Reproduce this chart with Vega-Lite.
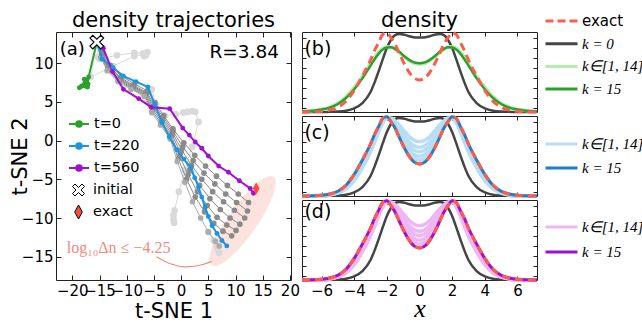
{
"$schema":"https://vega.github.io/schema/vega-lite/v6.json",
"background":"white",
"padding":{"left":8,"top":9,"right":0,"bottom":0},
"config":{"view":{"stroke":"#222","strokeWidth":1},"font":"DejaVu Sans"},
"datasets":{
"traj":[
{"t":"F1","k":"faint","x":-15.5,"y":12.7},{"t":"F1","k":"faint","x":-15.3,"y":10.8},{"t":"F1","k":"faint","x":-15.0,"y":10.5},{"t":"F1","k":"faint","x":-11.8,"y":11.0},{"t":"F1","k":"faint","x":-8.6,"y":11.3},{"t":"F1","k":"faint","x":-7.0,"y":11.2},{"t":"F1","k":"faint","x":-6.5,"y":11.0},{"t":"F1","k":"faint","x":-6.2,"y":11.4},{"t":"F1","k":"faint","x":-6.8,"y":10.9},
{"t":"F2","k":"faint","x":-15.5,"y":12.7},{"t":"F2","k":"faint","x":-16.6,"y":8.2},{"t":"F2","k":"faint","x":-12.5,"y":9.6},{"t":"F2","k":"faint","x":-8.6,"y":10.9},{"t":"F2","k":"faint","x":-6.6,"y":11.1},
{"t":"F3","k":"faint","x":-15.5,"y":12.7},{"t":"F3","k":"faint","x":-14.5,"y":11.0},{"t":"F3","k":"faint","x":-11.3,"y":8.0},{"t":"F3","k":"faint","x":-6.5,"y":6.0},{"t":"F3","k":"faint","x":-5.4,"y":6.6},{"t":"F3","k":"faint","x":-4.6,"y":4.6},{"t":"F3","k":"faint","x":-3.0,"y":3.2},{"t":"F3","k":"faint","x":-1.0,"y":3.4},{"t":"F3","k":"faint","x":0.4,"y":3.6},{"t":"F3","k":"faint","x":1.2,"y":3.7},{"t":"F3","k":"faint","x":2.0,"y":3.8},{"t":"F3","k":"faint","x":2.6,"y":3.7},{"t":"F3","k":"faint","x":3.2,"y":2.4},{"t":"F3","k":"faint","x":2.0,"y":-0.8},{"t":"F3","k":"faint","x":0.7,"y":-3.8},{"t":"F3","k":"faint","x":-0.4,"y":-6.6},{"t":"F3","k":"faint","x":-1.2,"y":-9.0},{"t":"F3","k":"faint","x":-1.4,"y":-9.6},{"t":"F3","k":"faint","x":-1.4,"y":-10.2},{"t":"F3","k":"faint","x":-1.3,"y":-10.6},
{"t":"F4","k":"faint","x":5.0,"y":-11.8},{"t":"F4","k":"faint","x":6.0,"y":-12.9},{"t":"F4","k":"faint","x":6.5,"y":-13.6},{"t":"F4","k":"faint","x":6.8,"y":-14.1},{"t":"F4","k":"faint","x":7.0,"y":-14.5},
{"t":"G1","k":"gray","x":-15.5,"y":12.7},{"t":"G1","k":"gray","x":-14.4,"y":11.3},{"t":"G1","k":"gray","x":-13.0,"y":9.7},{"t":"G1","k":"gray","x":-11.0,"y":8.3},{"t":"G1","k":"gray","x":-8.6,"y":7.3},{"t":"G1","k":"gray","x":-6.2,"y":6.4},{"t":"G1","k":"gray","x":-4.8,"y":4.9},{"t":"G1","k":"gray","x":-3.2,"y":3.2},{"t":"G1","k":"gray","x":-1.5,"y":1.5},{"t":"G1","k":"gray","x":0.5,"y":-0.3},{"t":"G1","k":"gray","x":2.5,"y":-1.9},{"t":"G1","k":"gray","x":4.5,"y":-3.3},{"t":"G1","k":"gray","x":6.5,"y":-4.6},{"t":"G1","k":"gray","x":8.5,"y":-5.8},{"t":"G1","k":"gray","x":10.5,"y":-6.9},{"t":"G1","k":"gray","x":12.4,"y":-8.0},
{"t":"G2","k":"gray","x":-15.5,"y":12.7},{"t":"G2","k":"gray","x":-14.5,"y":11.1},{"t":"G2","k":"gray","x":-13.1,"y":9.5},{"t":"G2","k":"gray","x":-11.1,"y":8.1},{"t":"G2","k":"gray","x":-8.7,"y":7.1},{"t":"G2","k":"gray","x":-6.3,"y":6.2},{"t":"G2","k":"gray","x":-4.9,"y":4.6},{"t":"G2","k":"gray","x":-3.3,"y":3.0},{"t":"G2","k":"gray","x":-1.5,"y":1.2},{"t":"G2","k":"gray","x":0.3,"y":-0.8},{"t":"G2","k":"gray","x":2.2,"y":-2.6},{"t":"G2","k":"gray","x":4.2,"y":-4.2},{"t":"G2","k":"gray","x":6.2,"y":-5.6},{"t":"G2","k":"gray","x":8.2,"y":-6.9},{"t":"G2","k":"gray","x":10.2,"y":-8.0},{"t":"G2","k":"gray","x":12.2,"y":-9.1},
{"t":"G3","k":"gray","x":-15.5,"y":12.7},{"t":"G3","k":"gray","x":-14.5,"y":11.0},{"t":"G3","k":"gray","x":-13.2,"y":9.4},{"t":"G3","k":"gray","x":-11.2,"y":8.0},{"t":"G3","k":"gray","x":-8.8,"y":7.0},{"t":"G3","k":"gray","x":-6.4,"y":6.1},{"t":"G3","k":"gray","x":-5.0,"y":4.4},{"t":"G3","k":"gray","x":-3.4,"y":2.8},{"t":"G3","k":"gray","x":-1.6,"y":1.0},{"t":"G3","k":"gray","x":0.1,"y":-1.2},{"t":"G3","k":"gray","x":1.9,"y":-3.2},{"t":"G3","k":"gray","x":3.8,"y":-5.0},{"t":"G3","k":"gray","x":5.8,"y":-6.6},{"t":"G3","k":"gray","x":7.8,"y":-7.9},{"t":"G3","k":"gray","x":9.8,"y":-9.0},{"t":"G3","k":"gray","x":11.7,"y":-10.0},
{"t":"G4","k":"gray","x":-15.5,"y":12.7},{"t":"G4","k":"gray","x":-14.6,"y":10.9},{"t":"G4","k":"gray","x":-13.3,"y":9.3},{"t":"G4","k":"gray","x":-11.3,"y":7.9},{"t":"G4","k":"gray","x":-8.9,"y":6.9},{"t":"G4","k":"gray","x":-6.5,"y":6.0},{"t":"G4","k":"gray","x":-5.1,"y":4.2},{"t":"G4","k":"gray","x":-3.5,"y":2.6},{"t":"G4","k":"gray","x":-1.7,"y":0.8},{"t":"G4","k":"gray","x":-0.1,"y":-1.6},{"t":"G4","k":"gray","x":1.6,"y":-3.8},{"t":"G4","k":"gray","x":3.4,"y":-5.8},{"t":"G4","k":"gray","x":5.3,"y":-7.5},{"t":"G4","k":"gray","x":7.2,"y":-8.9},{"t":"G4","k":"gray","x":9.0,"y":-10.0},{"t":"G4","k":"gray","x":10.8,"y":-10.8},
{"t":"G5","k":"gray","x":-15.5,"y":12.7},{"t":"G5","k":"gray","x":-14.6,"y":10.8},{"t":"G5","k":"gray","x":-13.4,"y":9.2},{"t":"G5","k":"gray","x":-11.4,"y":7.8},{"t":"G5","k":"gray","x":-9.0,"y":6.8},{"t":"G5","k":"gray","x":-6.6,"y":5.9},{"t":"G5","k":"gray","x":-5.2,"y":4.0},{"t":"G5","k":"gray","x":-3.6,"y":2.4},{"t":"G5","k":"gray","x":-1.8,"y":0.6},{"t":"G5","k":"gray","x":-0.3,"y":-2.0},{"t":"G5","k":"gray","x":1.3,"y":-4.4},{"t":"G5","k":"gray","x":3.0,"y":-6.6},{"t":"G5","k":"gray","x":4.8,"y":-8.4},{"t":"G5","k":"gray","x":6.6,"y":-9.9},{"t":"G5","k":"gray","x":8.4,"y":-10.9},{"t":"G5","k":"gray","x":10.1,"y":-11.6},
{"t":"G6","k":"gray","x":-15.5,"y":12.7},{"t":"G6","k":"gray","x":-14.7,"y":10.7},{"t":"G6","k":"gray","x":-13.5,"y":9.1},{"t":"G6","k":"gray","x":-11.5,"y":7.7},{"t":"G6","k":"gray","x":-9.1,"y":6.7},{"t":"G6","k":"gray","x":-6.7,"y":5.8},{"t":"G6","k":"gray","x":-5.3,"y":3.8},{"t":"G6","k":"gray","x":-3.7,"y":2.2},{"t":"G6","k":"gray","x":-1.9,"y":0.4},{"t":"G6","k":"gray","x":-0.5,"y":-2.4},{"t":"G6","k":"gray","x":1.0,"y":-5.0},{"t":"G6","k":"gray","x":2.6,"y":-7.3},{"t":"G6","k":"gray","x":4.3,"y":-9.2},{"t":"G6","k":"gray","x":6.0,"y":-10.7},{"t":"G6","k":"gray","x":7.7,"y":-11.7},{"t":"G6","k":"gray","x":9.3,"y":-12.3},
{"t":"G7","k":"gray2","x":-15.5,"y":12.7},{"t":"G7","k":"gray2","x":-14.7,"y":10.6},{"t":"G7","k":"gray2","x":-13.6,"y":9.0},{"t":"G7","k":"gray2","x":-11.6,"y":7.6},{"t":"G7","k":"gray2","x":-9.2,"y":6.6},{"t":"G7","k":"gray2","x":-6.8,"y":5.7},{"t":"G7","k":"gray2","x":-5.4,"y":3.6},{"t":"G7","k":"gray2","x":-3.8,"y":2.0},{"t":"G7","k":"gray2","x":-2.0,"y":0.2},{"t":"G7","k":"gray2","x":-0.7,"y":-2.7},{"t":"G7","k":"gray2","x":0.7,"y":-5.4},{"t":"G7","k":"gray2","x":2.1,"y":-7.9},{"t":"G7","k":"gray2","x":3.6,"y":-10.0},{"t":"G7","k":"gray2","x":5.0,"y":-11.8},{"t":"G7","k":"gray2","x":6.3,"y":-13.0},{"t":"G7","k":"gray2","x":7.0,"y":-13.6},
{"t":"T0","k":"t=0","x":-15.5,"y":12.7},{"t":"T0","k":"t=0","x":-17.0,"y":8.2},{"t":"T0","k":"t=0","x":-17.3,"y":7.8},{"t":"T0","k":"t=0","x":-17.6,"y":7.5},{"t":"T0","k":"t=0","x":-17.9,"y":7.2},{"t":"T0","k":"t=0","x":-18.3,"y":7.0},{"t":"T0","k":"t=0","x":-18.7,"y":6.8},{"t":"T0","k":"t=0","x":-17.5,"y":7.0},{"t":"T0","k":"t=0","x":-17.1,"y":7.3},{"t":"T0","k":"t=0","x":-17.4,"y":7.6},{"t":"T0","k":"t=0","x":-17.8,"y":7.9},{"t":"T0","k":"t=0","x":-17.2,"y":6.9},
{"t":"T220","k":"t=220","x":-15.5,"y":12.7},{"t":"T220","k":"t=220","x":-14.5,"y":10.5},{"t":"T220","k":"t=220","x":-12.5,"y":9.4},{"t":"T220","k":"t=220","x":-10.6,"y":8.3},{"t":"T220","k":"t=220","x":-8.3,"y":7.6},{"t":"T220","k":"t=220","x":-6.1,"y":6.9},{"t":"T220","k":"t=220","x":-4.8,"y":4.6},{"t":"T220","k":"t=220","x":-3.5,"y":2.3},{"t":"T220","k":"t=220","x":-2.2,"y":0.5},{"t":"T220","k":"t=220","x":-0.8,"y":-1.2},{"t":"T220","k":"t=220","x":0.5,"y":-2.4},{"t":"T220","k":"t=220","x":1.8,"y":-3.5},{"t":"T220","k":"t=220","x":2.5,"y":-4.8},{"t":"T220","k":"t=220","x":3.2,"y":-6.0},{"t":"T220","k":"t=220","x":3.8,"y":-7.3},{"t":"T220","k":"t=220","x":4.4,"y":-8.6},{"t":"T220","k":"t=220","x":5.0,"y":-9.8},{"t":"T220","k":"t=220","x":5.7,"y":-11.0},{"t":"T220","k":"t=220","x":6.6,"y":-12.0},{"t":"T220","k":"t=220","x":7.5,"y":-12.9},{"t":"T220","k":"t=220","x":8.4,"y":-13.6},
{"t":"T560","k":"t=560","x":-15.5,"y":12.7},{"t":"T560","k":"t=560","x":-14.3,"y":11.9},{"t":"T560","k":"t=560","x":-12.6,"y":8.9},{"t":"T560","k":"t=560","x":-10.6,"y":6.6},{"t":"T560","k":"t=560","x":-7.8,"y":5.4},{"t":"T560","k":"t=560","x":-5.5,"y":4.3},{"t":"T560","k":"t=560","x":-2.1,"y":4.1},{"t":"T560","k":"t=560","x":0.3,"y":1.6},{"t":"T560","k":"t=560","x":1.5,"y":0.7},{"t":"T560","k":"t=560","x":2.6,"y":-0.2},{"t":"T560","k":"t=560","x":3.8,"y":-1.0},{"t":"T560","k":"t=560","x":5.0,"y":-2.0},{"t":"T560","k":"t=560","x":6.9,"y":-3.3},{"t":"T560","k":"t=560","x":8.7,"y":-4.1},{"t":"T560","k":"t=560","x":10.7,"y":-5.2},{"t":"T560","k":"t=560","x":12.7,"y":-6.2},{"t":"T560","k":"t=560","x":13.3,"y":-6.8}
],
"marks":[{"k":"initial","x":-15.5,"y":12.7},{"k":"exact","x":13.8,"y":-6.2}],
"arc":[{"x":-4.5,"y":-15.0},{"x":-2.0,"y":-15.9},{"x":1.0,"y":-16.3},{"x":4.0,"y":-16.0},{"x":5.6,"y":-15.6}],
"dens":[
{"x":-7.2,"e":0,"k0":0,"g15":0.006,"gl":0.008,"c1":0,"c2":0,"c3":0,"c5":0,"c9":0},
{"x":-7,"e":0,"k0":0,"g15":0.008,"gl":0.01,"c1":0,"c2":0,"c3":0,"c5":0,"c9":0},
{"x":-6.5,"e":0.003,"k0":0,"g15":0.016,"gl":0.019,"c1":0.001,"c2":0.0015,"c3":0.002,"c5":0.002,"c9":0.0027},
{"x":-6,"e":0.009,"k0":0,"g15":0.03,"gl":0.035,"c1":0.004,"c2":0.005,"c3":0.006,"c5":0.007,"c9":0.008},
{"x":-5.5,"e":0.025,"k0":0.002,"g15":0.055,"gl":0.062,"c1":0.012,"c2":0.015,"c3":0.018,"c5":0.02,"c9":0.023},
{"x":-5,"e":0.06,"k0":0.005,"g15":0.1,"gl":0.11,"c1":0.035,"c2":0.041,"c3":0.046,"c5":0.051,"c9":0.056},
{"x":-4.5,"e":0.135,"k0":0.015,"g15":0.175,"gl":0.19,"c1":0.085,"c2":0.098,"c3":0.108,"c5":0.118,"c9":0.127},
{"x":-4,"e":0.27,"k0":0.045,"g15":0.285,"gl":0.305,"c1":0.19,"c2":0.21,"c3":0.226,"c5":0.242,"c9":0.256},
{"x":-3.5,"e":0.45,"k0":0.11,"g15":0.42,"gl":0.445,"c1":0.35,"c2":0.375,"c3":0.395,"c5":0.415,"c9":0.433},
{"x":-3,"e":0.65,"k0":0.25,"g15":0.58,"gl":0.605,"c1":0.55,"c2":0.575,"c3":0.595,"c5":0.615,"c9":0.633},
{"x":-2.75,"e":0.77,"k0":0.37,"g15":0.66,"gl":0.685,"c1":0.67,"c2":0.695,"c3":0.715,"c5":0.735,"c9":0.753},
{"x":-2.5,"e":0.87,"k0":0.51,"g15":0.73,"gl":0.75,"c1":0.8,"c2":0.818,"c3":0.832,"c5":0.846,"c9":0.858},
{"x":-2.25,"e":0.97,"k0":0.66,"g15":0.78,"gl":0.795,"c1":0.91,"c2":0.925,"c3":0.937,"c5":0.949,"c9":0.96},
{"x":-2,"e":0.99,"k0":0.8,"g15":0.805,"gl":0.815,"c1":0.975,"c2":0.979,"c3":0.982,"c5":0.985,"c9":0.987},
{"x":-1.75,"e":0.93,"k0":0.9,"g15":0.81,"gl":0.81,"c1":0.975,"c2":0.964,"c3":0.955,"c5":0.946,"c9":0.938},
{"x":-1.5,"e":0.85,"k0":0.96,"g15":0.79,"gl":0.785,"c1":0.94,"c2":0.918,"c3":0.9,"c5":0.882,"c9":0.865},
{"x":-1.25,"e":0.74,"k0":0.975,"g15":0.755,"gl":0.745,"c1":0.89,"c2":0.853,"c3":0.823,"c5":0.793,"c9":0.766},
{"x":-1,"e":0.63,"k0":0.97,"g15":0.71,"gl":0.7,"c1":0.83,"c2":0.78,"c3":0.74,"c5":0.7,"c9":0.664},
{"x":-0.75,"e":0.535,"k0":0.955,"g15":0.67,"gl":0.66,"c1":0.77,"c2":0.711,"c3":0.664,"c5":0.617,"c9":0.575},
{"x":-0.5,"e":0.46,"k0":0.94,"g15":0.635,"gl":0.625,"c1":0.72,"c2":0.655,"c3":0.603,"c5":0.551,"c9":0.504},
{"x":-0.25,"e":0.415,"k0":0.932,"g15":0.615,"gl":0.605,"c1":0.69,"c2":0.621,"c3":0.566,"c5":0.511,"c9":0.462},
{"x":0,"e":0.4,"k0":0.93,"g15":0.61,"gl":0.6,"c1":0.68,"c2":0.61,"c3":0.554,"c5":0.498,"c9":0.448},
{"x":0.25,"e":0.415,"k0":0.932,"g15":0.615,"gl":0.605,"c1":0.69,"c2":0.621,"c3":0.566,"c5":0.511,"c9":0.462},
{"x":0.5,"e":0.46,"k0":0.94,"g15":0.635,"gl":0.625,"c1":0.72,"c2":0.655,"c3":0.603,"c5":0.551,"c9":0.504},
{"x":0.75,"e":0.535,"k0":0.955,"g15":0.67,"gl":0.66,"c1":0.77,"c2":0.711,"c3":0.664,"c5":0.617,"c9":0.575},
{"x":1,"e":0.63,"k0":0.97,"g15":0.71,"gl":0.7,"c1":0.83,"c2":0.78,"c3":0.74,"c5":0.7,"c9":0.664},
{"x":1.25,"e":0.74,"k0":0.975,"g15":0.755,"gl":0.745,"c1":0.89,"c2":0.853,"c3":0.823,"c5":0.793,"c9":0.766},
{"x":1.5,"e":0.85,"k0":0.96,"g15":0.79,"gl":0.785,"c1":0.94,"c2":0.918,"c3":0.9,"c5":0.882,"c9":0.865},
{"x":1.75,"e":0.93,"k0":0.9,"g15":0.81,"gl":0.81,"c1":0.975,"c2":0.964,"c3":0.955,"c5":0.946,"c9":0.938},
{"x":2,"e":0.99,"k0":0.8,"g15":0.805,"gl":0.815,"c1":0.975,"c2":0.979,"c3":0.982,"c5":0.985,"c9":0.987},
{"x":2.25,"e":0.97,"k0":0.66,"g15":0.78,"gl":0.795,"c1":0.91,"c2":0.925,"c3":0.937,"c5":0.949,"c9":0.96},
{"x":2.5,"e":0.87,"k0":0.51,"g15":0.73,"gl":0.75,"c1":0.8,"c2":0.818,"c3":0.832,"c5":0.846,"c9":0.858},
{"x":2.75,"e":0.77,"k0":0.37,"g15":0.66,"gl":0.685,"c1":0.67,"c2":0.695,"c3":0.715,"c5":0.735,"c9":0.753},
{"x":3,"e":0.65,"k0":0.25,"g15":0.58,"gl":0.605,"c1":0.55,"c2":0.575,"c3":0.595,"c5":0.615,"c9":0.633},
{"x":3.5,"e":0.45,"k0":0.11,"g15":0.42,"gl":0.445,"c1":0.35,"c2":0.375,"c3":0.395,"c5":0.415,"c9":0.433},
{"x":4,"e":0.27,"k0":0.045,"g15":0.285,"gl":0.305,"c1":0.19,"c2":0.21,"c3":0.226,"c5":0.242,"c9":0.256},
{"x":4.5,"e":0.135,"k0":0.015,"g15":0.175,"gl":0.19,"c1":0.085,"c2":0.098,"c3":0.108,"c5":0.118,"c9":0.127},
{"x":5,"e":0.06,"k0":0.005,"g15":0.1,"gl":0.11,"c1":0.035,"c2":0.041,"c3":0.046,"c5":0.051,"c9":0.056},
{"x":5.5,"e":0.025,"k0":0.002,"g15":0.055,"gl":0.062,"c1":0.012,"c2":0.015,"c3":0.018,"c5":0.02,"c9":0.023},
{"x":6,"e":0.009,"k0":0,"g15":0.03,"gl":0.035,"c1":0.004,"c2":0.005,"c3":0.006,"c5":0.007,"c9":0.008},
{"x":6.5,"e":0.003,"k0":0,"g15":0.016,"gl":0.019,"c1":0.001,"c2":0.0015,"c3":0.002,"c5":0.002,"c9":0.0027},
{"x":7,"e":0,"k0":0,"g15":0.008,"gl":0.01,"c1":0,"c2":0,"c3":0,"c5":0,"c9":0},
{"x":7.2,"e":0,"k0":0,"g15":0.006,"gl":0.008,"c1":0,"c2":0,"c3":0,"c5":0,"c9":0}
]
},
"bounds":"flush",
"spacing":11,
"resolve":{"scale":{"color":"independent","shape":"independent","stroke":"independent","fill":"independent","x":"independent","y":"independent"},"legend":{"color":"independent","shape":"independent","stroke":"independent","fill":"independent"}},
"hconcat":[
{
"width":235,"height":248,
"title":{"text":"density trajectories","font":"DejaVu Sans","fontSize":21,"fontWeight":"normal","color":"black","anchor":"middle","frame":"group","offset":1},
"data":{"name":"traj"},
"transform":[{"window":[{"op":"row_number","as":"i"}]}],
"resolve":{"axis":{"x":"independent","y":"independent"}},
"layer":[
{"data":{"values":[{}]},
 "mark":{"type":"point","shape":"M-1,0A1,0.27,0,1,0,1,0A1,0.27,0,1,0,-1,0Z","size":11664,"angle":305,"filled":true,"color":"#fde3de","opacity":1,"strokeWidth":0},
 "encoding":{"x":{"datum":11.3,"type":"quantitative","axis":null},"y":{"datum":-10.4,"type":"quantitative","axis":null}}},
{"data":{"name":"arc"},
 "mark":{"type":"line","color":"#f08a80","strokeWidth":1.2,"interpolate":"monotone"},
 "encoding":{"x":{"field":"x","type":"quantitative","axis":null},"y":{"field":"y","type":"quantitative","axis":null}}},
{"transform":[{"filter":{"field":"k","equal":"faint"}}],
 "mark":{"type":"line","strokeWidth":1},
 "encoding":{
  "x":{"field":"x","type":"quantitative","scale":{"domain":[-23,20.2],"nice":false,"zero":false},
   "axis":{"orient":"bottom","values":[-20,-15,-10,-5,0,5,10,15,20],"title":"t-SNE 1","titleFont":"DejaVu Sans","titleFontSize":21,"titleFontWeight":"normal","titleColor":"black","titlePadding":2,"labelFont":"DejaVu Sans","labelFontSize":15,"labelColor":"black","labelPadding":8,"labelOverlap":false,"labelFlush":false,"labelBound":false,"tickSize":-5,"tickColor":"#222","domain":false,"grid":false}},
  "y":{"field":"y","type":"quantitative","scale":{"domain":[-18,14],"nice":false,"zero":false},
   "axis":{"orient":"left","values":[-15,-10,-5,0,5,10],"title":"t-SNE 2","titleFont":"DejaVu Sans","titleFontSize":21,"titleFontWeight":"normal","titleColor":"black","titlePadding":-9,"labelFont":"DejaVu Sans","labelFontSize":15,"labelColor":"black","labelPadding":8,"labelOverlap":false,"labelFlush":false,"labelBound":false,"tickSize":-5,"tickColor":"#222","domain":false,"grid":false}},
  "stroke":{"field":"k","type":"nominal","scale":{"domain":["t=0","t=220","t=560","gray","gray2","faint"],"range":["#2ca02c","#1a96e0","#a010d0","#8a8a8a","#ababab","#d9d9d9"]}},
  "detail":{"field":"t"},
  "order":{"field":"i","type":"quantitative"}}},
{"transform":[{"filter":{"field":"k","equal":"faint"}}],
 "mark":{"type":"point","filled":true,"size":45,"opacity":1},
 "encoding":{"x":{"field":"x","type":"quantitative","axis":null},"y":{"field":"y","type":"quantitative","axis":null},
  "color":{"field":"k","type":"nominal","scale":{"domain":["t=0","t=220","t=560","gray","gray2","faint"],"range":["#2ca02c","#1a96e0","#a010d0","#8a8a8a","#ababab","#d9d9d9"]},"legend":null}}},
{"transform":[{"filter":{"field":"k","oneOf":["gray","gray2"]}}],
 "mark":{"type":"line","strokeWidth":1},
 "encoding":{
  "x":{"field":"x","type":"quantitative","axis":{"orient":"top","values":[-20,-15,-10,-5,0,5,10,15,20],"labels":false,"title":null,"tickSize":-5,"tickColor":"#222","domain":false,"grid":false}},
  "y":{"field":"y","type":"quantitative","axis":{"orient":"right","values":[-15,-10,-5,0,5,10],"labels":false,"title":null,"tickSize":-5,"tickColor":"#222","domain":false,"grid":false}},
  "stroke":{"field":"k","type":"nominal"},
  "detail":{"field":"t"},
  "order":{"field":"i","type":"quantitative"}}},
{"transform":[{"filter":{"field":"k","oneOf":["gray","gray2"]}}],
 "mark":{"type":"point","filled":true,"size":32,"opacity":1},
 "encoding":{"x":{"field":"x","type":"quantitative","axis":null},"y":{"field":"y","type":"quantitative","axis":null},
  "color":{"field":"k","type":"nominal","legend":null}}},
{"transform":[{"filter":{"field":"k","oneOf":["t=0","t=220","t=560"]}}],
 "mark":{"type":"line","strokeWidth":2},
 "encoding":{"x":{"field":"x","type":"quantitative","axis":null},"y":{"field":"y","type":"quantitative","axis":null},
  "stroke":{"field":"k","type":"nominal",
   "legend":{"title":null,"orient":"none","legendX":12,"legendY":81,"padding":0,"values":["t=0","t=220","t=560"],"symbolType":"M-1,0L1,0M-0.28,0A0.28,0.28,0,1,0,0.28,0A0.28,0.28,0,1,0,-0.28,0","symbolSize":400,"symbolStrokeWidth":2,"clipHeight":22,"rowPadding":0,"labelFont":"DejaVu Sans","labelFontSize":14.5,"labelColor":"black","labelOffset":4}},
  "detail":{"field":"t"},
  "order":{"field":"i","type":"quantitative"}}},
{"transform":[{"filter":{"field":"k","oneOf":["t=0","t=220","t=560"]}}],
 "mark":{"type":"point","filled":true,"size":24,"opacity":1},
 "encoding":{"x":{"field":"x","type":"quantitative","axis":null},"y":{"field":"y","type":"quantitative","axis":null},
  "color":{"field":"k","type":"nominal","legend":null}}},
{"data":{"name":"marks"},
 "transform":[{"filter":{"field":"k","equal":"initial"}}],
 "mark":{"type":"point","filled":true,"size":520,"stroke":"black","strokeWidth":1.2,"opacity":1},
 "encoding":{"x":{"field":"x","type":"quantitative","axis":null},"y":{"field":"y","type":"quantitative","axis":null},
  "fill":{"field":"k","type":"nominal","scale":{"domain":["initial","exact"],"range":["#ffffff","#ff4b3e"]},
   "legend":{"title":null,"orient":"none","legendX":12,"legendY":147,"padding":0,"values":["initial","exact"],"symbolSize":400,"symbolStrokeWidth":1,"clipHeight":22,"rowPadding":0,"labelFont":"DejaVu Sans","labelFontSize":14.5,"labelColor":"black","labelOffset":4}},
  "shape":{"field":"k","type":"nominal",
   "scale":{"domain":["initial","exact"],"range":["M-0.6,-0.35L-0.35,-0.6L0,-0.25L0.35,-0.6L0.6,-0.35L0.25,0L0.6,0.35L0.35,0.6L0,0.25L-0.35,0.6L-0.6,0.35L-0.25,0Z","M0,-0.7L0.38,0L0,0.7L-0.38,0Z"]},
   "legend":{"title":null,"orient":"none","legendX":12,"legendY":147,"padding":0,"values":["initial","exact"],"symbolSize":400,"symbolStrokeWidth":1,"clipHeight":22,"rowPadding":0,"labelFont":"DejaVu Sans","labelFontSize":14.5,"labelColor":"black","labelOffset":4}}}},
{"data":{"name":"marks"},
 "transform":[{"filter":{"field":"k","equal":"exact"}}],
 "mark":{"type":"point","filled":true,"size":320,"opacity":1},
 "encoding":{"x":{"field":"x","type":"quantitative","axis":null},"y":{"field":"y","type":"quantitative","axis":null},
  "fill":{"field":"k","type":"nominal"},
  "shape":{"field":"k","type":"nominal"}}},
{"data":{"values":[{}]},
 "mark":{"type":"text","text":"(a)","font":"DejaVu Sans","fontSize":18,"align":"left","baseline":"middle","color":"black"},
 "encoding":{"x":{"datum":-22.3,"type":"quantitative","axis":null},"y":{"datum":11.7,"type":"quantitative","axis":null}}},
{"data":{"values":[{}]},
 "mark":{"type":"text","text":"R=3.84","font":"DejaVu Sans","fontSize":18.5,"align":"right","baseline":"middle","color":"black"},
 "encoding":{"x":{"datum":18.0,"type":"quantitative","axis":null},"y":{"datum":11.4,"type":"quantitative","axis":null}}},
{"data":{"values":[{}]},
 "mark":{"type":"text","text":"log₁₀Δn ≤ −4.25","font":"Liberation Serif","fontSize":16,"align":"center","baseline":"middle","color":"#f08a80"},
 "encoding":{"x":{"datum":-11.5,"type":"quantitative","axis":null},"y":{"datum":-13.9,"type":"quantitative","axis":null}}}
]
},
{
"bounds":"flush",
"spacing":4,
"resolve":{"scale":{"color":"independent","x":"independent","y":"independent"},"legend":{"color":"independent"}},
"vconcat":[
{
"width":235,"height":80,
"title":{"text":"density","font":"DejaVu Sans","fontSize":21,"fontWeight":"normal","color":"black","anchor":"middle","frame":"group","offset":-21},
"data":{"name":"dens"},
"transform":[{"fold":["e","k0","g15","gl"],"as":["key","y"]}],
"resolve":{"axis":{"x":"independent","y":"independent"}},
"layer":[
{"transform":[{"filter":{"field":"key","equal":"k0"}}],
 "mark":{"type":"line","strokeWidth":2.5,"interpolate":"monotone"},
 "encoding":{
  "x":{"field":"x","type":"quantitative","scale":{"domain":[-7.2,7.2],"nice":false,"zero":false},"axis":{"orient":"bottom","values":[-6,-4,-2,0,2,4,6],"labels":false,"title":null,"tickSize":-4,"tickColor":"#222","domain":false,"grid":false}},
  "y":{"field":"y","type":"quantitative","scale":{"domain":[0,1],"nice":false,"zero":false},"axis":{"orient":"left","values":[0.055,0.18,0.305,0.43,0.555,0.68,0.805,0.93],"labels":false,"title":null,"tickSize":-4,"tickColor":"#222","domain":false,"grid":false}},
  "color":{"field":"key","type":"nominal","scale":{"domain":["e","k0","gl","g15"],"range":["#ff5a4a","#454545","#b5ecae","#2ca02c"]}}}},
{"transform":[{"filter":{"field":"key","equal":"gl"}}],
 "mark":{"type":"line","strokeWidth":3.5,"interpolate":"monotone"},
 "encoding":{
  "x":{"field":"x","type":"quantitative","axis":{"orient":"top","values":[-6,-4,-2,0,2,4,6],"labels":false,"title":null,"tickSize":-4,"tickColor":"#222","domain":false,"grid":false}},
  "y":{"field":"y","type":"quantitative","axis":{"orient":"right","values":[0.055,0.18,0.305,0.43,0.555,0.68,0.805,0.93],"labels":false,"title":null,"tickSize":-4,"tickColor":"#222","domain":false,"grid":false}},
  "color":{"field":"key","type":"nominal",
   "legend":{"title":null,"orient":"none","legendX":242,"legendY":-22,"padding":0,"values":["e","k0","gl","g15"],"symbolType":"stroke","symbolSize":1024,"symbolStrokeWidth":3,"clipHeight":22,"rowPadding":0.7,"labelFontSize":15,"labelColor":"black","labelOffset":3,
    "labelExpr":"datum.value === 'e' ? 'exact' : datum.value === 'k0' ? 'k = 0' : datum.value === 'gl' ? 'k∈[1, 14]' : 'k = 15'",
    "encode":{"labels":{"update":{"font":{"signal":"datum.value === 'e' ? 'DejaVu Sans' : 'Liberation Serif'"},"fontStyle":{"signal":"datum.value === 'e' ? 'normal' : 'italic'"}}},
     "symbols":{"update":{"strokeDash":{"signal":"datum.value === 'e' ? [8,4] : []"},"strokeWidth":{"value":3},"opacity":{"value":1}}}}}}}},
{"transform":[{"filter":{"field":"key","equal":"g15"}}],
 "mark":{"type":"line","strokeWidth":2.5,"interpolate":"monotone"},
 "encoding":{"x":{"field":"x","type":"quantitative","axis":null},"y":{"field":"y","type":"quantitative","axis":null},
  "color":{"field":"key","type":"nominal"}}},
{"transform":[{"filter":{"field":"key","equal":"e"}}],
 "mark":{"type":"line","strokeWidth":3,"strokeDash":[8,5],"interpolate":"monotone"},
 "encoding":{"x":{"field":"x","type":"quantitative","axis":null},"y":{"field":"y","type":"quantitative","axis":null},
  "color":{"field":"key","type":"nominal"}}},
{"data":{"values":[{}]},
 "mark":{"type":"text","text":"(b)","font":"DejaVu Sans","fontSize":19,"align":"left","baseline":"middle","color":"black"},
 "encoding":{"x":{"datum":-7.05,"type":"quantitative","axis":null},"y":{"datum":0.79,"type":"quantitative","axis":null}}}
]
},
{
"width":235,"height":80,
"data":{"name":"dens"},
"transform":[{"fold":["e","k0","c1","c2","c3","c5","c9"],"as":["key","y"]}],
"resolve":{"axis":{"x":"independent","y":"independent"}},
"layer":[
{"transform":[{"filter":{"field":"key","equal":"k0"}}],
 "mark":{"type":"line","strokeWidth":2.5,"interpolate":"monotone"},
 "encoding":{
  "x":{"field":"x","type":"quantitative","scale":{"domain":[-7.2,7.2],"nice":false,"zero":false},"axis":{"orient":"bottom","values":[-6,-4,-2,0,2,4,6],"labels":false,"title":null,"tickSize":-4,"tickColor":"#222","domain":false,"grid":false}},
  "y":{"field":"y","type":"quantitative","scale":{"domain":[0,1],"nice":false,"zero":false},"axis":{"orient":"left","values":[0.055,0.18,0.305,0.43,0.555,0.68,0.805,0.93],"labels":false,"title":null,"tickSize":-4,"tickColor":"#222","domain":false,"grid":false}},
  "color":{"field":"key","type":"nominal","scale":{"domain":["e","k0","c1","c2","c3","c5","c9","f"],"range":["#ff5a4a","#454545","#b8def5","#b8def5","#b8def5","#b8def5","#b8def5","#1f7fc6"]}}}},
{"transform":[{"filter":{"field":"key","oneOf":["c1","c2","c3","c5","c9"]}}],
 "mark":{"type":"line","strokeWidth":3.5,"interpolate":"monotone"},
 "encoding":{
  "x":{"field":"x","type":"quantitative","axis":{"orient":"top","values":[-6,-4,-2,0,2,4,6],"labels":false,"title":null,"tickSize":-4,"tickColor":"#222","domain":false,"grid":false}},
  "y":{"field":"y","type":"quantitative","axis":{"orient":"right","values":[0.055,0.18,0.305,0.43,0.555,0.68,0.805,0.93],"labels":false,"title":null,"tickSize":-4,"tickColor":"#222","domain":false,"grid":false}},
  "color":{"field":"key","type":"nominal",
   "legend":{"title":null,"orient":"none","legendX":242,"legendY":17,"padding":0,"values":["c1","f"],"symbolType":"stroke","symbolSize":1024,"symbolStrokeWidth":3,"clipHeight":22,"rowPadding":2,"labelFontSize":15,"labelColor":"black","labelOffset":3,"labelFont":"Liberation Serif","labelFontStyle":"italic",
    "labelExpr":"datum.value === 'f' ? 'k = 15' : 'k∈[1, 14]'",
    "encode":{"symbols":{"update":{"strokeWidth":{"value":3},"opacity":{"value":1}}}}}},
  "detail":{"field":"key"}}},
{"transform":[{"filter":{"field":"key","equal":"e"}}],
 "mark":{"type":"line","strokeWidth":3,"interpolate":"monotone"},
 "encoding":{"x":{"field":"x","type":"quantitative","axis":null},"y":{"field":"y","type":"quantitative","axis":null},
  "color":{"datum":"f","type":"nominal"}}},
{"transform":[{"filter":{"field":"key","equal":"e"}}],
 "mark":{"type":"line","strokeWidth":3,"strokeDash":[8,5],"interpolate":"monotone"},
 "encoding":{"x":{"field":"x","type":"quantitative","axis":null},"y":{"field":"y","type":"quantitative","axis":null},
  "color":{"field":"key","type":"nominal"}}},
{"data":{"values":[{}]},
 "mark":{"type":"text","text":"(c)","font":"DejaVu Sans","fontSize":19,"align":"left","baseline":"middle","color":"black"},
 "encoding":{"x":{"datum":-7.05,"type":"quantitative","axis":null},"y":{"datum":0.79,"type":"quantitative","axis":null}}}
]
},
{
"width":235,"height":80,
"data":{"name":"dens"},
"transform":[{"fold":["e","k0","c1","c2","c3","c5","c9"],"as":["key","y"]}],
"resolve":{"axis":{"x":"independent","y":"independent"}},
"layer":[
{"transform":[{"filter":{"field":"key","equal":"k0"}}],
 "mark":{"type":"line","strokeWidth":2.5,"interpolate":"monotone"},
 "encoding":{
  "x":{"field":"x","type":"quantitative","scale":{"domain":[-7.2,7.2],"nice":false,"zero":false},"axis":{"orient":"bottom","values":[-6,-4,-2,0,2,4,6],"title":"x","titleFont":"Liberation Serif","titleFontStyle":"italic","titleFontSize":26,"titleFontWeight":"normal","titleColor":"black","titlePadding":-3,"labelFont":"DejaVu Sans","labelFontSize":15,"labelColor":"black","labelPadding":7,"labelOverlap":false,"labelFlush":false,"labelBound":false,"tickSize":-4,"tickColor":"#222","domain":false,"grid":false}},
  "y":{"field":"y","type":"quantitative","scale":{"domain":[0,1],"nice":false,"zero":false},"axis":{"orient":"left","values":[0.055,0.18,0.305,0.43,0.555,0.68,0.805,0.93],"labels":false,"title":null,"tickSize":-4,"tickColor":"#222","domain":false,"grid":false}},
  "color":{"field":"key","type":"nominal","scale":{"domain":["e","k0","c1","c2","c3","c5","c9","f"],"range":["#ff5a4a","#454545","#efb6f6","#efb6f6","#efb6f6","#efb6f6","#efb6f6","#a010d0"]}}}},
{"transform":[{"filter":{"field":"key","oneOf":["c1","c2","c3","c5","c9"]}}],
 "mark":{"type":"line","strokeWidth":3.5,"interpolate":"monotone"},
 "encoding":{
  "x":{"field":"x","type":"quantitative","axis":{"orient":"top","values":[-6,-4,-2,0,2,4,6],"labels":false,"title":null,"tickSize":-4,"tickColor":"#222","domain":false,"grid":false}},
  "y":{"field":"y","type":"quantitative","axis":{"orient":"right","values":[0.055,0.18,0.305,0.43,0.555,0.68,0.805,0.93],"labels":false,"title":null,"tickSize":-4,"tickColor":"#222","domain":false,"grid":false}},
  "color":{"field":"key","type":"nominal",
   "legend":{"title":null,"orient":"none","legendX":242,"legendY":16,"padding":0,"values":["c1","f"],"symbolType":"stroke","symbolSize":1024,"symbolStrokeWidth":3,"clipHeight":22,"rowPadding":3,"labelFontSize":15,"labelColor":"black","labelOffset":3,"labelFont":"Liberation Serif","labelFontStyle":"italic",
    "labelExpr":"datum.value === 'f' ? 'k = 15' : 'k∈[1, 14]'",
    "encode":{"symbols":{"update":{"strokeWidth":{"value":3},"opacity":{"value":1}}}}}},
  "detail":{"field":"key"}}},
{"transform":[{"filter":{"field":"key","equal":"e"}}],
 "mark":{"type":"line","strokeWidth":3,"interpolate":"monotone"},
 "encoding":{"x":{"field":"x","type":"quantitative","axis":null},"y":{"field":"y","type":"quantitative","axis":null},
  "color":{"datum":"f","type":"nominal"}}},
{"transform":[{"filter":{"field":"key","equal":"e"}}],
 "mark":{"type":"line","strokeWidth":3,"strokeDash":[8,5],"interpolate":"monotone"},
 "encoding":{"x":{"field":"x","type":"quantitative","axis":null},"y":{"field":"y","type":"quantitative","axis":null},
  "color":{"field":"key","type":"nominal"}}},
{"data":{"values":[{}]},
 "mark":{"type":"text","text":"(d)","font":"DejaVu Sans","fontSize":19,"align":"left","baseline":"middle","color":"black"},
 "encoding":{"x":{"datum":-7.05,"type":"quantitative","axis":null},"y":{"datum":0.85,"type":"quantitative","axis":null}}}
]
}
]
}
]
}
